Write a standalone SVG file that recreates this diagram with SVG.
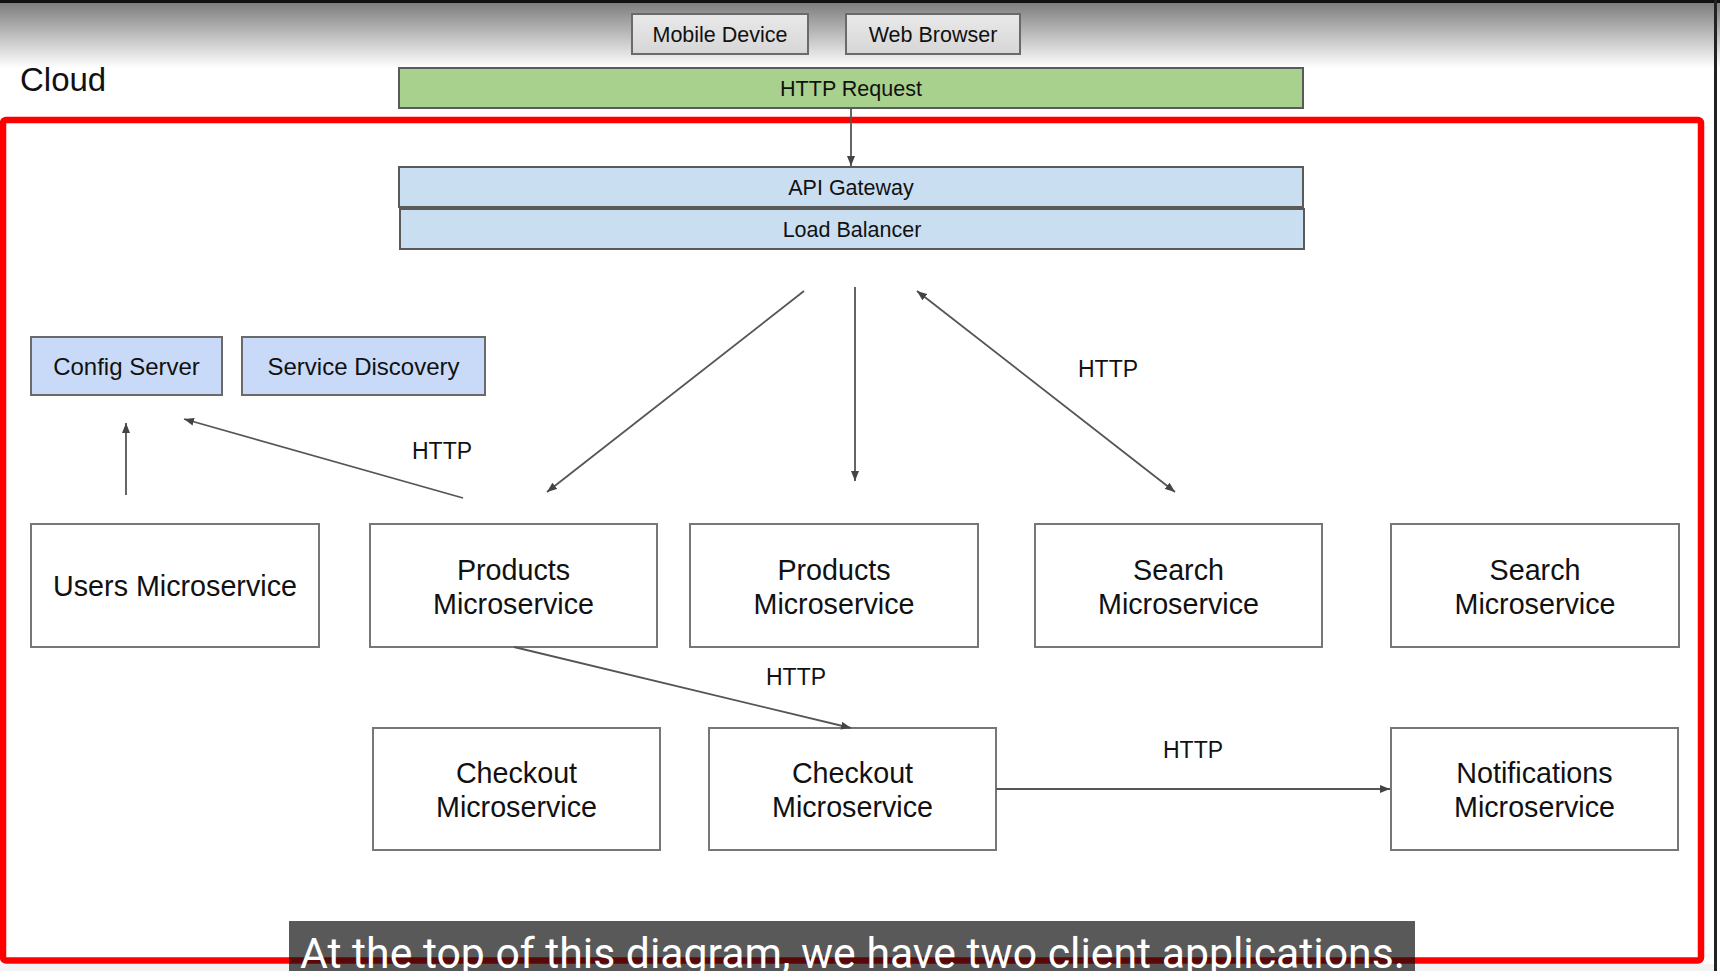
<svg xmlns="http://www.w3.org/2000/svg" width="1720" height="971" viewBox="0 0 1720 971">
<style>
text{font-family:"Liberation Sans",Arial,sans-serif;fill:#111}
.sm{font-size:21.5px;text-anchor:middle}
.md{font-size:24px;text-anchor:middle}
.lg{font-size:28.7px;text-anchor:middle}
.lbl{font-size:23px}
.client{fill:#e0e0e0;stroke:#6a6a6a;stroke-width:2}
.bar{stroke:#5a5a5a;stroke-width:2}
.blue{fill:#c9daf8;stroke:#6a6a6a;stroke-width:2}
.ms{fill:#fff;stroke:#777;stroke-width:2}
.conn{stroke:#555;stroke-width:1.8;fill:none;marker-end:url(#ah)}
</style>
<defs>
<linearGradient id="topg" x1="0" y1="0" x2="0" y2="1">
<stop offset="0" stop-color="#7e7e7e"/>
<stop offset="1" stop-color="#ffffff"/>
</linearGradient>
<linearGradient id="clientg" x1="0" y1="0" x2="0" y2="1">
<stop offset="0" stop-color="#e9e9e9"/>
<stop offset="1" stop-color="#d6d6d6"/>
</linearGradient>
<marker id="ah" markerUnits="userSpaceOnUse" markerWidth="11" markerHeight="8" refX="10" refY="4" orient="auto-start-reverse">
<path d="M0,0 L10,4 L0,8 z" fill="#444"/>
</marker>
</defs>
<rect x="0" y="0" width="1720" height="971" fill="#ffffff"/>
<rect x="0" y="3" width="1720" height="65" fill="url(#topg)"/>
<rect x="0" y="0" width="1720" height="3" fill="#111"/>
<rect x="1714" y="0" width="3" height="971" fill="#222"/>
<rect x="0" y="964" width="1714" height="7" fill="#f3f3f3"/>

<text x="20" y="91" style="font-size:33px">Cloud</text>

<rect x="3" y="120" width="1698" height="840.5" rx="3" fill="none" stroke="#ff0000" stroke-width="6.5"/>

<g id="mobile-device"><rect class="client" x="632" y="14" width="176" height="40" style="fill:url(#clientg)"/><text class="sm" x="720" y="41.5">Mobile Device</text></g>
<g id="web-browser"><rect class="client" x="846" y="14" width="174" height="40" style="fill:url(#clientg)"/><text class="sm" x="933" y="41.5">Web Browser</text></g>
<g id="http-request"><rect class="bar" x="399" y="68" width="904" height="40" fill="#a9d18e"/><text class="sm" x="851" y="95.5">HTTP Request</text></g>
<g id="api-gateway"><rect class="bar" x="399" y="167" width="904" height="40" fill="#c9def1"/><text class="sm" x="851" y="194.5">API Gateway</text></g>
<g id="load-balancer"><rect class="bar" x="400" y="209" width="904" height="40" fill="#c9def1"/><text class="sm" x="852" y="236.5">Load Balancer</text></g>
<g id="config-server"><rect class="blue" x="31" y="337" width="191" height="58"/><text class="md" x="126.5" y="374.5">Config Server</text></g>
<g id="service-discovery"><rect class="blue" x="242" y="337" width="243" height="58"/><text class="md" x="363.5" y="374.5">Service Discovery</text></g>

<g id="users-ms"><rect class="ms" x="31" y="524" width="288" height="123"/><text class="lg" x="175" y="595.5">Users Microservice</text></g>
<g id="products-ms-1"><rect class="ms" x="370" y="524" width="287" height="123"/><text class="lg" x="513.5" y="579.5">Products</text><text class="lg" x="513.5" y="613.5">Microservice</text></g>
<g id="products-ms-2"><rect class="ms" x="690" y="524" width="288" height="123"/><text class="lg" x="834" y="579.5">Products</text><text class="lg" x="834" y="613.5">Microservice</text></g>
<g id="search-ms-1"><rect class="ms" x="1035" y="524" width="287" height="123"/><text class="lg" x="1178.5" y="579.5">Search</text><text class="lg" x="1178.5" y="613.5">Microservice</text></g>
<g id="search-ms-2"><rect class="ms" x="1391" y="524" width="288" height="123"/><text class="lg" x="1535" y="579.5">Search</text><text class="lg" x="1535" y="613.5">Microservice</text></g>
<g id="checkout-ms-1"><rect class="ms" x="373" y="728" width="287" height="122"/><text class="lg" x="516.5" y="782.5">Checkout</text><text class="lg" x="516.5" y="816.5">Microservice</text></g>
<g id="checkout-ms-2"><rect class="ms" x="709" y="728" width="287" height="122"/><text class="lg" x="852.5" y="782.5">Checkout</text><text class="lg" x="852.5" y="816.5">Microservice</text></g>
<g id="notifications-ms"><rect class="ms" x="1391" y="728" width="287" height="122"/><text class="lg" x="1534.5" y="782.5">Notifications</text><text class="lg" x="1534.5" y="816.5">Microservice</text></g>

<g id="connectors">
<line class="conn" x1="851" y1="108" x2="851" y2="166"/>
<line class="conn" x1="804" y1="291" x2="547" y2="492"/>
<line class="conn" x1="855" y1="287" x2="855" y2="481"/>
<line class="conn" x1="917" y1="291" x2="1175" y2="492" style="marker-start:url(#ah)"/>
<line class="conn" x1="126" y1="495" x2="126" y2="423"/>
<line class="conn" x1="463" y1="498" x2="184" y2="419"/>
<line class="conn" x1="514" y1="647" x2="851" y2="728"/>
<line class="conn" x1="996" y1="789" x2="1390" y2="789"/>
<text class="lbl" x="412" y="459">HTTP</text>
<text class="lbl" x="1078" y="377">HTTP</text>
<text class="lbl" x="766" y="685">HTTP</text>
<text class="lbl" x="1163" y="758">HTTP</text>
</g>

<rect x="289" y="921" width="1126" height="60" fill="#0a0a0a" opacity="0.68"/>
<text x="300" y="968" textLength="1105" lengthAdjust="spacingAndGlyphs" style="font-family:Roboto,'Liberation Sans',sans-serif;font-size:42px;fill:#ffffff">At the top of this diagram, we have two client applications.</text>
</svg>
